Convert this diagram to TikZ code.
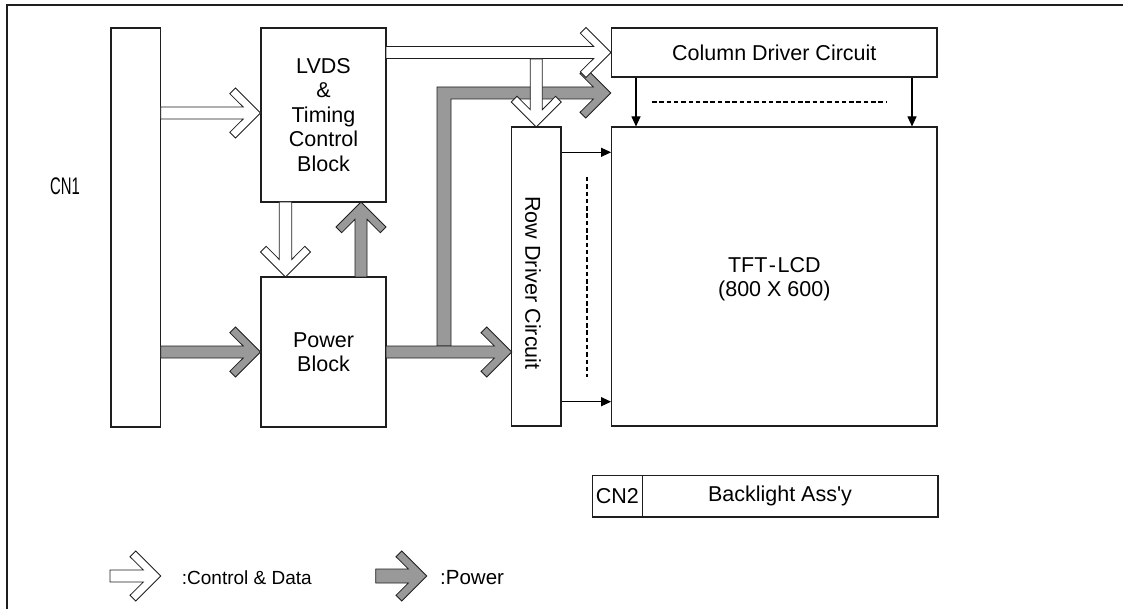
\documentclass[tikz,border=0pt]{standalone}
\usepackage{fontspec}
\setmainfont{Liberation Sans}
\newfontfamily\plainfont{Liberation Sans}
\newfontfamily\narrowfont[FakeStretch=0.62]{Liberation Sans}
\usetikzlibrary{arrows.meta}
\definecolor{pgray}{RGB}{153,153,153}
\definecolor{lnc}{RGB}{30,30,30}
\begin{document}
\begin{tikzpicture}[x=1pt,y=-1pt,
  box/.style={draw=lnc, line width=1.1pt, inner sep=0pt},
  lbl/.style={font=\fontsize{21.5}{24.5}\selectfont, align=center, inner sep=0pt},
  ctrl/.style={draw=lnc, line width=0.8pt, fill=white},
  pwr/.style={draw=lnc, line width=0.8pt, fill=pgray},
  sig/.style={draw=black, line width=1.1pt, -{Triangle[length=10pt,width=9pt]}},
  dots/.style={draw=black, line width=1.6pt, dash pattern=on 4.5pt off 2.8pt},
  pics/barrow/.style n args={2}{code={
    \path[pic actions] (-#1,-#2) -- (-11.3-#2,-#2) -- (-30.7,-19.3) -- (-25,-25) -- (0,0)
      -- (-25,25) -- (-30.7,19.3) -- (-11.3-#2,#2) -- (-#1,#2) -- cycle;
  }}
]
\useasboundingbox (0,0) rectangle (1123,609);
\draw[line width=2pt, lnc] (1123,5) -- (7,5) -- (7,609);

% boxes
\node[box, minimum width=49.7pt, minimum height=399pt] (cn1) at (135.8,227.5) {};
\node[box, lbl, minimum width=125pt, minimum height=174pt] (lvds) at (323.5,115) {LVDS\\\&\\Timing\\Control\\Block};
\node[box, lbl, minimum width=125pt, minimum height=150pt] (power) at (323.5,352) {Power\\Block};
\node[box, lbl, minimum width=325.3pt, minimum height=49pt] (col) at (774.3,52.5) {Column Driver Circuit};
\node[box, minimum width=49.3pt, minimum height=299pt] (row) at (536.3,276.5) {};
\node[box, minimum width=325.3pt, minimum height=299pt] (tft) at (774.3,276.5) {};
\node[box, lbl, minimum width=50pt, minimum height=41.3pt] (cn2) at (617.3,496.3) {CN2};
\node[box, minimum width=295.7pt, minimum height=41.3pt] (bl) at (790.1,496.3) {};

% texts
\node[lbl, font=\narrowfont\fontsize{24}{26}\selectfont] (cn1txt) at (65,186) {CN1};
\node[lbl, rotate=-90] (rowtxt) at (533,283) {Row Driver Circuit};
\node[lbl] (tfttxt) at (774.3,279) {TFT\kern1.5pt-\kern1.5pt LCD\\(800 X 600)};
\node[lbl, font=\plainfont\fontsize{21.5}{24.5}\selectfont] (bltxt) at (780,496.3) {Backlight Ass'y};

% power (gray) arrows
\path[pwr] (437,346) -- (437,87) -- (593.4,87) -- (580,73.7) -- (585.7,68) -- (610.7,93)
  -- (585.7,118) -- (580,112.3) -- (593.4,99) -- (451,99) -- (451,346) -- cycle;
\pic[pwr] at (511.7,352) {barrow={125.7}{6}};
\pic[pwr] at (260.5,352) {barrow={99.8}{6}};
\pic[pwr, rotate=90] at (361,202) {barrow={75}{6}};

% control (white) arrows
\pic[ctrl] at (260.5,113) {barrow={99.8}{6}};
\pic[ctrl] at (611,52.5) {barrow={225}{6}};
\pic[ctrl, rotate=-90] at (536.3,127) {barrow={68}{6}};
\pic[ctrl, rotate=-90] at (285.5,277) {barrow={75}{6.3}};

% signal arrows
\coordinate (c1) at (636,0);
\coordinate (c2) at (912,0);
\coordinate (r1) at (0,152.3);
\coordinate (r2) at (0,401.7);
\draw[sig] (col.south -| c1) -- (tft.north -| c1);
\draw[sig] (col.south -| c2) -- (tft.north -| c2);
\draw[sig] (row.east |- r1) -- (tft.west |- r1);
\draw[sig] (row.east |- r2) -- (tft.west |- r2);
\draw[dots] (652,102) -- (886,102);
\draw[dots] (586.7,177) -- (586.7,377);

% legend
\pic[ctrl] at (160.7,576) {barrow={50.7}{6}};
\node[lbl, font=\fontsize{19}{22}\selectfont, anchor=west] (lg1) at (181.7,577.5) {:Control \& Data};
\pic[pwr] at (426.7,576) {barrow={51}{7}};
\node[lbl, font=\fontsize{20.5}{24}\selectfont, anchor=west] (lg2) at (440,577.5) {:Power};
\end{tikzpicture}
\end{document}
